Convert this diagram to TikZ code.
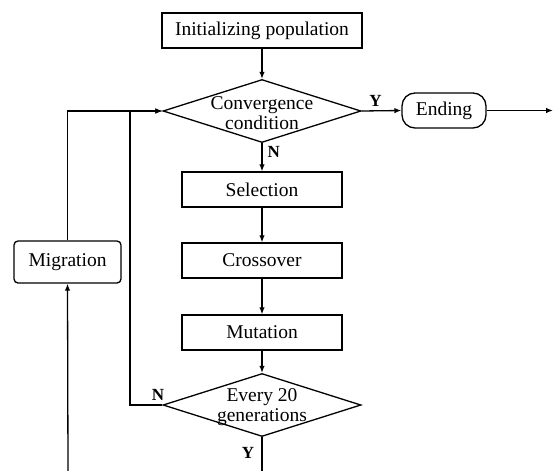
\documentclass[tikz,border=0pt]{standalone}
\usepackage{fontspec}
\setmainfont{Liberation Serif}
\usetikzlibrary{shapes.geometric,arrows.meta}
\begin{document}
\begin{tikzpicture}[x=1pt,y=-1pt,
  line width=1.3pt,
  every node/.style={font=\fontsize{19.5}{20}\selectfont},
  arr/.style={-{Latex[length=7pt,width=5.5pt]}},
  box/.style={draw,rectangle,minimum height=35pt,inner sep=0pt},
  dia/.style={draw,diamond,minimum width=198pt,minimum height=63pt,inner sep=0pt},
  txt/.style={align=center,inner sep=0pt},
  lab/.style={inner sep=0pt,font=\fontsize{17}{18}\selectfont\bfseries}
]
\useasboundingbox (0,0) rectangle (554,471);
\node[box,minimum width=200pt] (init) at (262,30.5) {Initializing population};
\node[dia] (conv) at (262,111) {};
\node[txt] (convt) at (262,113) {Convergence\\condition};
\node[box,minimum width=84pt,rounded corners=13pt] (end) at (444,110.5) {Ending};
\coordinate (out) at (553,110.5);
\node[box,minimum width=160pt] (sel) at (262,189.5) {Selection};
\node[box,minimum width=160pt] (cross) at (262,260.5) {Crossover};
\node[box,minimum width=160pt] (mut) at (262,332.5) {Mutation};
\node[dia] (every) at (262,405) {};
\node[txt] (everyt) at (262,407) {Every 20\\generations};
\node[box,minimum width=107pt,minimum height=42pt,rounded corners=4pt] (mig) at (67.5,262) {Migration};
\coordinate (ybot) at (262,472);
\coordinate (mbot) at (68,472);
\coordinate (nleft) at (130,405);

\draw[arr] (init) -- (conv);
\draw[arr] (conv.east) -- (end.west) node[lab,pos=0.35,above=4pt] (ly) {Y};
\draw[arr] (end.east) -- (out);
\draw[arr] (conv.south) -- (sel.north) node[lab,pos=0.3,right=5pt] (ln) {N};
\draw[arr] (sel) -- (cross);
\draw[arr] (cross) -- (mut);
\draw[arr] (mut) -- (every.north);
\draw[arr] (every.west) -- (nleft) |- (conv.west);
\node[lab] (ln2) at (158,395) {N};
\draw[arr] (mig.north) |- (conv.west);
\draw (every.south) -- (ybot);
\node[lab] (ly2) at (248,453) {Y};
\draw[arr] (mbot) -- (mig.south);
\end{tikzpicture}
\end{document}
